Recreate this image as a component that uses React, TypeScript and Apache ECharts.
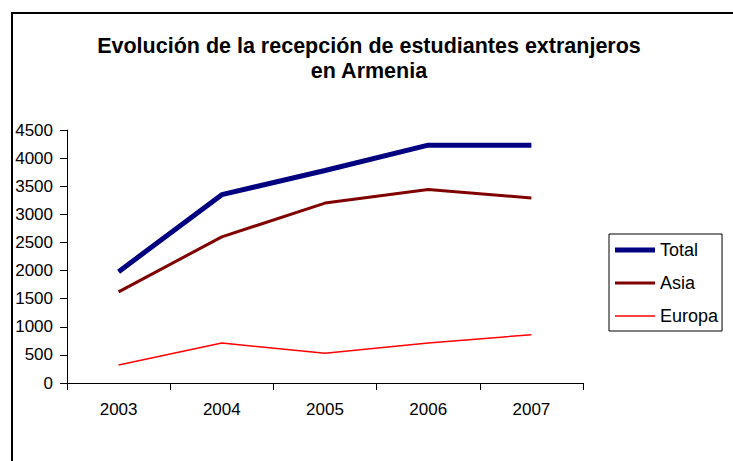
import React, { useEffect, useRef } from "react";
import * as echarts from "echarts";

const categories = ["2003", "2004", "2005", "2006", "2007"];
const totalValues = [1980, 3350, 3780, 4230, 4230];
const asiaValues = [1620, 2600, 3200, 3440, 3290];
const europaValues = [320, 710, 530, 710, 860];
const seriesNames = ["Total", "Asia", "Europa"];
const titleText = "Evolución de la recepción de estudiantes extranjeros\nen Armenia";

const FONT = "'Liberation Sans', Arial, sans-serif";

export default function App() {
  const ref = useRef<HTMLDivElement>(null);
  useEffect(() => {
    if (!ref.current) return;
    const chart = echarts.init(ref.current, undefined, { renderer: "svg" });
    chart.setOption({
      animation: false,
      backgroundColor: "#ffffff",
      textStyle: { fontFamily: FONT, color: "#000" },
      title: {
        text: titleText,
        left: 364,
        top: 28,
        textAlign: "center",
        textStyle: {
          fontFamily: FONT,
          fontSize: 21.5,
          fontWeight: "bold",
          color: "#000",
          lineHeight: 25,
        },
      },
      graphic: [
        {
          type: "rect",
          shape: { x: 12, y: 13, width: 900, height: 700 },
          style: { fill: "none", stroke: "#000", lineWidth: 2 },
          silent: true,
        },
      ],
      legend: {
        orient: "vertical",
        left: 609,
        top: 234,
        padding: [7, 4, 6, 6],
        itemGap: 15,
        itemWidth: 40,
        itemHeight: 17,
        borderColor: "#000",
        borderWidth: 1,
        symbolKeepAspect: true,
        data: [
          { name: seriesNames[0], icon: "path://M0,0H40V5H0Z", itemStyle: { borderWidth: 0 } },
          { name: seriesNames[1], icon: "path://M0,0H40V3H0Z", itemStyle: { borderWidth: 0 } },
          { name: seriesNames[2], icon: "path://M0,0H40V1.5H0Z", itemStyle: { borderWidth: 0 } },
        ],
        textStyle: { fontFamily: FONT, fontSize: 18, color: "#000" },
      },
      grid: { left: 67, right: 150, top: 130, bottom: 78, containLabel: false },
      xAxis: {
        type: "category",
        data: categories,
        boundaryGap: true,
        axisLine: { lineStyle: { color: "#000", width: 1 } },
        axisTick: { show: true, length: 7, lineStyle: { color: "#000" } },
        axisLabel: { fontFamily: FONT, fontSize: 17, color: "#000", margin: 18 },
        splitLine: { show: false },
      },
      yAxis: {
        type: "value",
        min: 0,
        max: 4500,
        interval: 500,
        axisLine: { show: true, lineStyle: { color: "#000", width: 1 } },
        axisTick: { show: true, length: 7, lineStyle: { color: "#000" } },
        axisLabel: {
          fontFamily: FONT,
          fontSize: 17,
          color: "#000",
          margin: 14,
          formatter: (v: number) => String(v),
        },
        splitLine: { show: false },
      },
      series: [
        {
          name: seriesNames[0],
          type: "line",
          data: totalValues,
          symbol: "none",
          lineStyle: { color: "#000080", width: 5 },
          itemStyle: { color: "#000080" },
        },
        {
          name: seriesNames[1],
          type: "line",
          data: asiaValues,
          symbol: "none",
          lineStyle: { color: "#800000", width: 3 },
          itemStyle: { color: "#800000" },
        },
        {
          name: seriesNames[2],
          type: "line",
          data: europaValues,
          symbol: "none",
          lineStyle: { color: "#ff0000", width: 1.5 },
          itemStyle: { color: "#ff0000" },
        },
      ],
    });
    return () => chart.dispose();
  }, []);
  return (
    <div
      ref={ref}
      style={{ position: "absolute", left: 0, top: 0, width: 733, height: 461 }}
    />
  );
}
